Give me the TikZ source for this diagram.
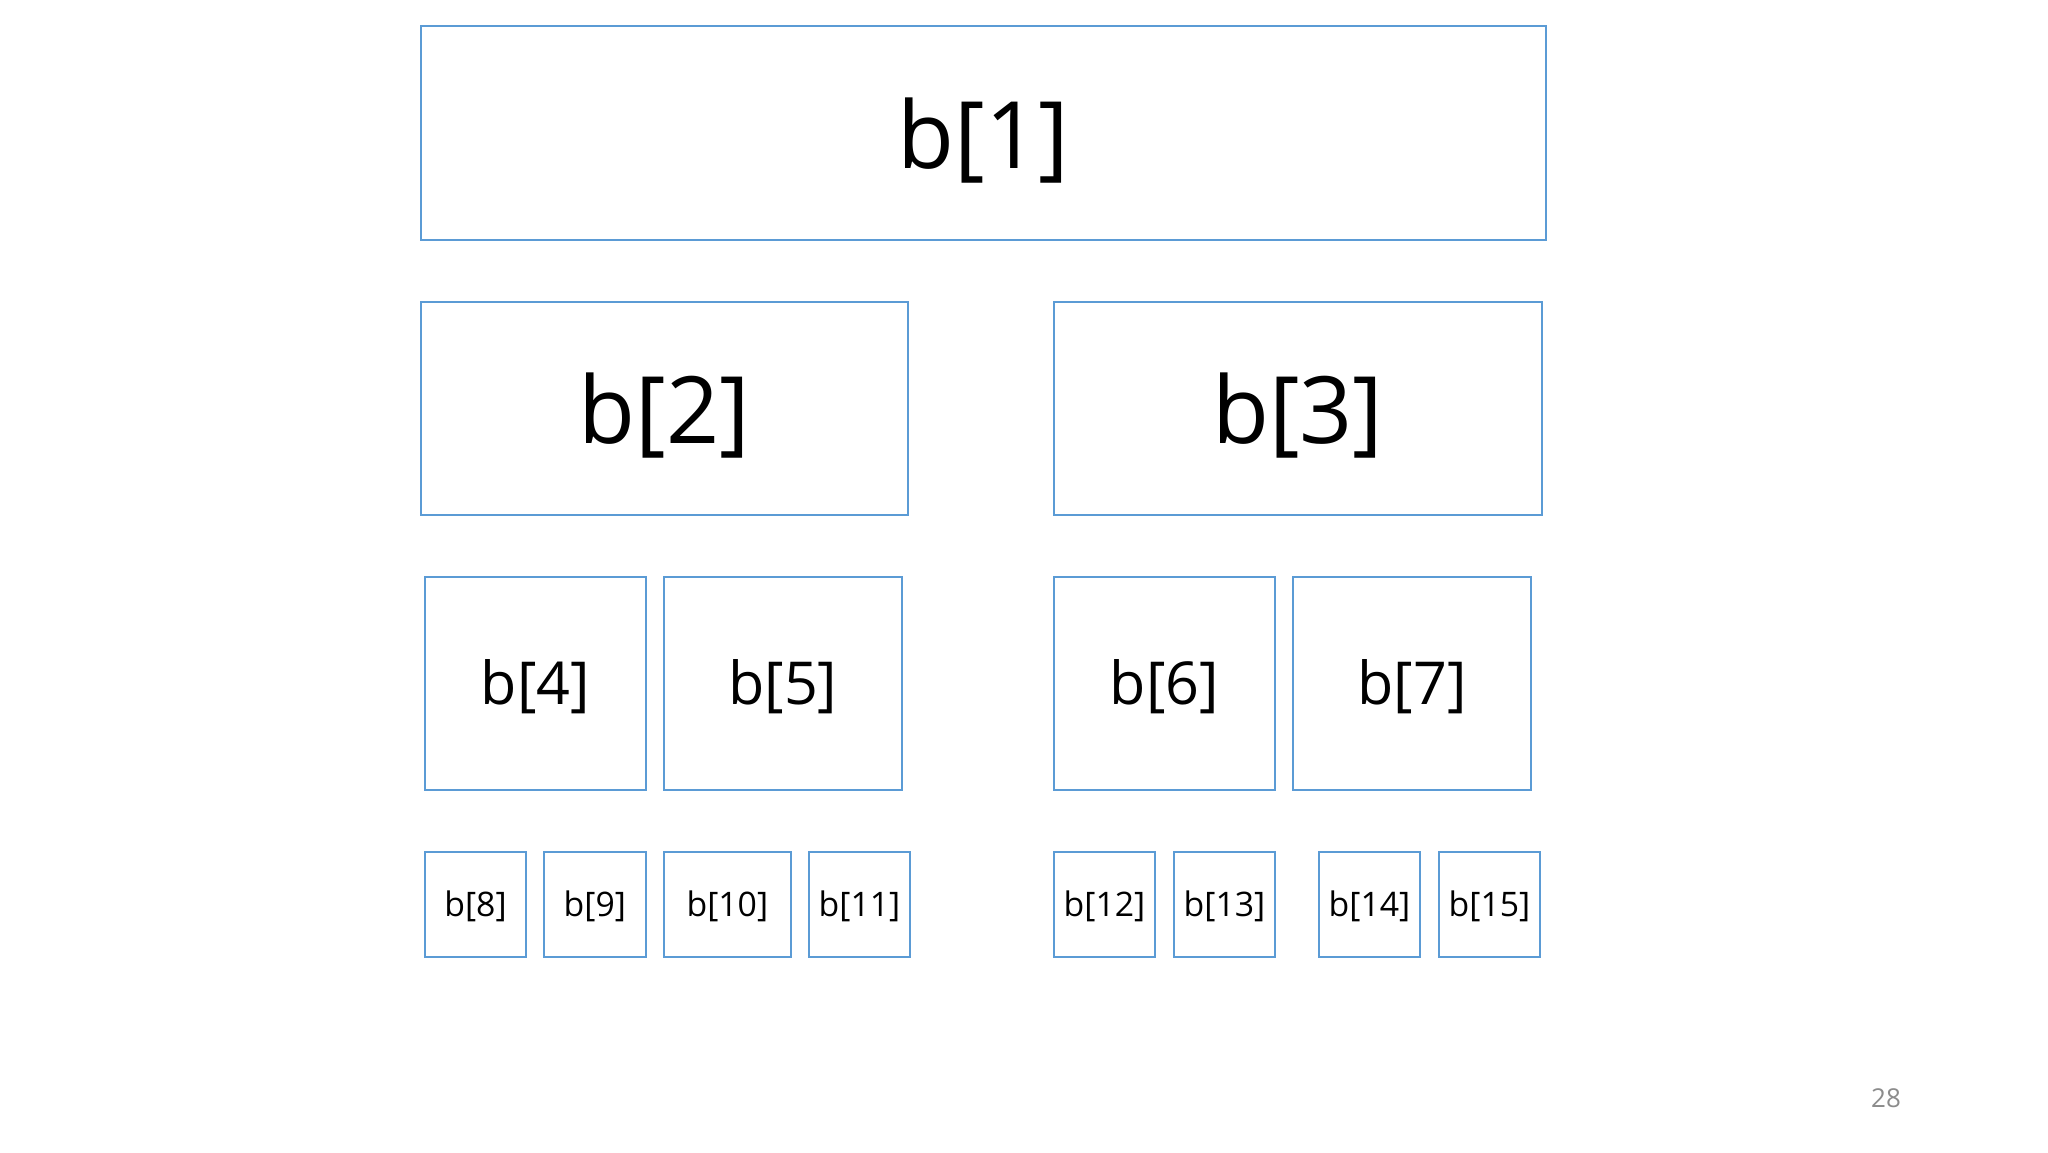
\documentclass[tikz,border=0pt]{standalone}
\usepackage{fontspec}
\setmainfont{Open Sans}
\definecolor{boxblue}{HTML}{5B9BD5}
\definecolor{pagegray}{HTML}{8C8C8C}
\newcommand\lowr[2]{\raisebox{-#1}[\height][\depth]{#2}}
\tikzset{
  cell/.style={draw=boxblue, line width=1pt, fill=white, inner sep=0pt, outer sep=0pt, text=black},
  big/.style={cell, font=\fontsize{46.5}{50}\selectfont},
  mid/.style={cell, font=\fontsize{29.6}{32}\selectfont},
  small/.style={cell, font=\fontsize{16.9}{19}\selectfont},
}
\begin{document}
\begin{tikzpicture}[x=0.5pt, y=-0.5pt]
\useasboundingbox[fill=white] (0,0) rectangle (2048,1152);
% level 1
\node[big, minimum width=562.25pt, minimum height=107pt] (b1) at (983.25,133) {\lowr{3.75pt}{b[1]}};
% level 2
\node[big, minimum width=243.5pt, minimum height=106.5pt] (b2) at (664.5,408.5) {\lowr{3.75pt}{b[2]}};
\node[big, minimum width=243.75pt, minimum height=106.5pt] (b3) at (1297.75,408.5) {\lowr{3.75pt}{b[3]}};
% level 3
\node[mid, minimum width=110.35pt, minimum height=106.5pt] (b4) at (535.35,683.5) {\lowr{1.75pt}{b[4]}};
\node[mid, minimum width=118.85pt, minimum height=106.5pt] (b5) at (782.85,683.5) {\lowr{1.75pt}{b[5]}};
\node[mid, minimum width=110.5pt, minimum height=106.5pt] (b6) at (1164.5,683.5) {\lowr{1.75pt}{b[6]}};
\node[mid, minimum width=119pt, minimum height=106.5pt] (b7) at (1412,683.5) {\lowr{1.75pt}{b[7]}};
% level 4
\node[small, minimum width=50.5pt, minimum height=52.5pt] (b8) at (475.5,904.5) {\lowr{0.75pt}{b[8]}};
\node[small, minimum width=50.85pt, minimum height=52.5pt] (b9) at (594.85,904.5) {\lowr{0.75pt}{b[9]}};
\node[small, minimum width=63.35pt, minimum height=52.5pt] (b10) at (727.35,904.5) {\lowr{0.75pt}{b[10]}};
\node[small, minimum width=50.5pt, minimum height=52.5pt] (b11) at (859.5,904.5) {\lowr{0.75pt}{b[11]}};
\node[small, minimum width=50.5pt, minimum height=52.5pt] (b12) at (1104.5,904.5) {\lowr{0.75pt}{b[12]}};
\node[small, minimum width=50.5pt, minimum height=52.5pt] (b13) at (1224.5,904.5) {\lowr{0.75pt}{b[13]}};
\node[small, minimum width=50.5pt, minimum height=52.5pt] (b14) at (1369.5,904.5) {\lowr{0.75pt}{b[14]}};
\node[small, minimum width=50.5pt, minimum height=52.5pt] (b15) at (1489.5,904.5) {\lowr{0.75pt}{b[15]}};
% page number
\node[text=pagegray, font=\fontsize{13}{15}\selectfont, inner sep=0pt] (pg) at (1886,1098) {28};
\end{tikzpicture}
\end{document}
